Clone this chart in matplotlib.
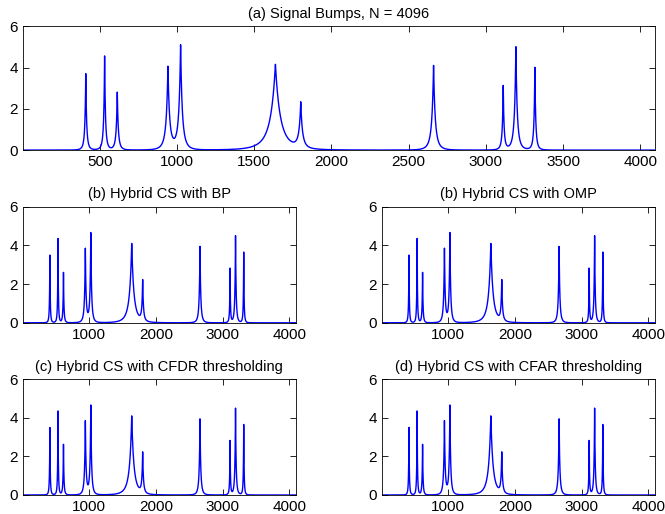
import matplotlib
matplotlib.use('Agg')
import matplotlib.pyplot as plt
import numpy as np

plt.rcParams['font.family'] = ['Liberation Sans', 'DejaVu Sans']

N = 4096
# bump centres, widths (samples) and peak heights
pos = [410, 532, 614, 942, 1024, 1638, 1802, 2662, 3113, 3195, 3318]
wid = [20.5, 20.5, 24.6, 41, 41, 123, 41, 41, 20.5, 32.8, 20.5]
h_orig = [3.7, 4.55, 2.8, 4.0, 5.05, 4.15, 2.2, 4.1, 3.1, 5.0, 4.0]
h_bp = [3.5, 4.35, 2.6, 3.8, 4.62, 4.1, 2.1, 3.95, 2.8, 4.5, 3.65]
h_omp = [3.5, 4.35, 2.6, 3.8, 4.62, 4.1, 2.1, 3.95, 2.8, 4.5, 3.65]
h_cfdr = [3.5, 4.35, 2.62, 3.8, 4.62, 4.1, 2.1, 3.95, 2.8, 4.5, 3.65]
h_cfar = [3.5, 4.35, 2.62, 3.8, 4.62, 4.1, 2.1, 3.95, 2.8, 4.5, 3.65]

titles = ['(a) Signal Bumps, N = 4096', '(b) Hybrid CS with BP',
          '(b) Hybrid CS with OMP', '(c) Hybrid CS with CFDR thresholding',
          '(d) Hybrid CS with CFAR thresholding']

t = np.arange(1, N + 1)


def bumps(hgt):
    s = np.zeros(N)
    for p, w, h in zip(pos, wid, hgt):
        s += h * (1 + np.abs((t - p) / w)) ** -4
    return s


fig = plt.figure(figsize=(6.65, 5.14), dpi=100)
rects = [[0.034, 0.708, 0.951, 0.241],
         [0.034, 0.372, 0.4105, 0.2257],
         [0.574, 0.372, 0.4105, 0.2257],
         [0.034, 0.037, 0.4105, 0.225],
         [0.574, 0.037, 0.4105, 0.225]]
sigs = [h_orig, h_bp, h_omp, h_cfdr, h_cfar]

for i, (r, hg, ttl) in enumerate(zip(rects, sigs, titles)):
    ax = fig.add_axes(r)
    ax.plot(t, bumps(hg), color='#0000ff', linewidth=1.0)
    ax.set_xlim(1, N)
    ax.set_ylim(0, 6)
    ax.set_yticks([0, 2, 4, 6])
    if i == 0:
        ax.set_xticks(np.arange(500, 4001, 500))
    else:
        ax.set_xticks([1000, 2000, 3000, 4000])
    ax.tick_params(direction='in', top=True, right=True, labelsize=11, length=4, width=0.6)
    for s in ax.spines.values():
        s.set_linewidth(0.6)
    ax.set_title(ttl, fontsize=10.5, pad=6)

fig.savefig('out.png', dpi=100)
